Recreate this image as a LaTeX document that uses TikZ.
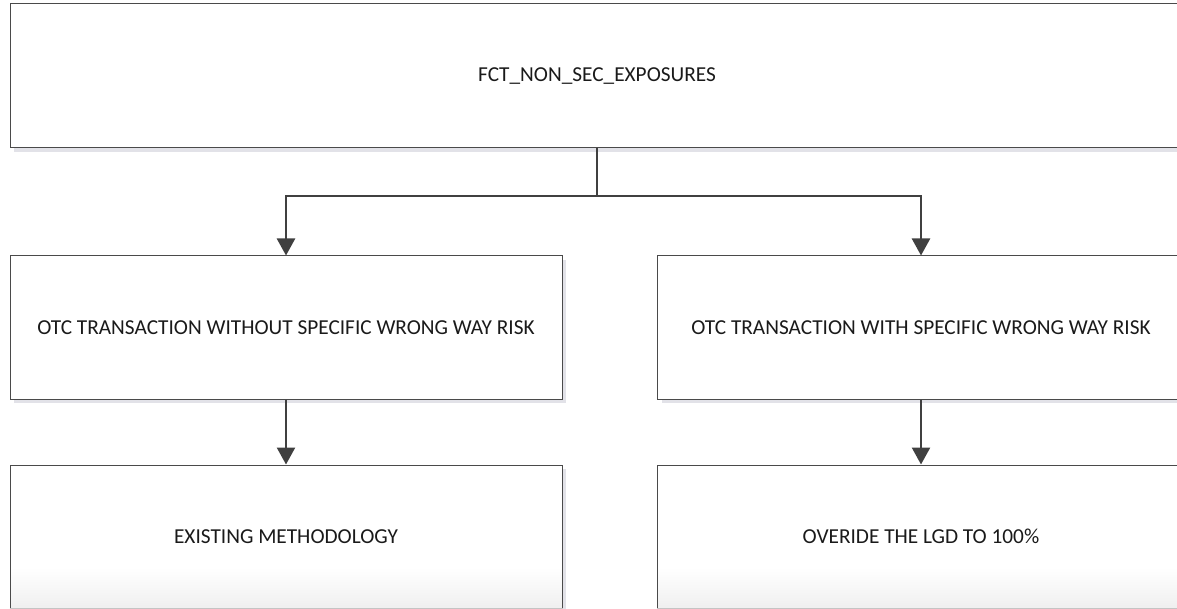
\documentclass[tikz,border=0pt]{standalone}
\usepackage{fontspec}
\setmainfont{Carlito}
\usetikzlibrary{arrows.meta,shadows}
\definecolor{bordc}{HTML}{4A4A4A}
\definecolor{linec}{HTML}{404040}
\definecolor{shadc}{HTML}{E2E2E8}
\definecolor{botedge}{HTML}{C4C4C4}
\definecolor{txtc}{HTML}{1A1A1A}
\begin{document}
\begin{tikzpicture}[x=1pt,y=-1pt,
  box/.style={draw=bordc, line width=1pt, fill=white, rectangle, inner sep=0pt,
    font=\fontsize{21.3}{25}\selectfont, text=txtc,
    drop shadow={shadow xshift=4pt, shadow yshift=-4pt, fill=shadc, opacity=1}},
  wbox/.style={box, minimum width=552pt, minimum height=143pt},
  rbox/.style={box, minimum width=527pt, minimum height=143pt},
  fadebottom/.style={path picture={
    \foreach \i in {0,...,39}{
      \pgfmathsetmacro{\shadeamt}{6*\i/39}
      \fill[black!\shadeamt]
        ([yshift={40pt-\i*1pt}]path picture bounding box.south west) rectangle
        ([yshift={39pt-\i*1pt}]path picture bounding box.south east);}}},
  conn/.style={draw=linec, line width=2.5pt},
  arr/.style={conn, -{Triangle[width=18pt,length=17pt]}}]
\useasboundingbox (0,0) rectangle (1177,609);
\clip (0,0) rectangle (1177,609);

\node[box, minimum width=1174pt, minimum height=144pt] (top) at (597,76) {FCT\_NON\_SEC\_EXPOSURES};
\node[wbox] (midL) at (286,327.5) {OTC TRANSACTION WITHOUT SPECIFIC WRONG WAY RISK};
\node[rbox] (midR) at (921,327.5) {OTC TRANSACTION WITH SPECIFIC WRONG WAY RISK};
\node[wbox, fadebottom] (botL) at (286,536.5) {EXISTING METHODOLOGY};
\node[rbox, fadebottom] (botR) at (921,536.5) {OVERIDE THE LGD TO 100\%};
\draw[botedge, line width=1pt] (botL.south west) -- (botL.south east);
\draw[botedge, line width=1pt] (botR.south west) -- (botR.south east);

\coordinate (branch) at (597,196);
\draw[conn] (top.south) -- (branch);
\draw[arr] (branch) -| (midL.north);
\draw[arr] (branch) -| (midR.north);
\draw[arr] (midL.south) -- (botL.north);
\draw[arr] (midR.south) -- (botR.north);
\end{tikzpicture}
\end{document}
